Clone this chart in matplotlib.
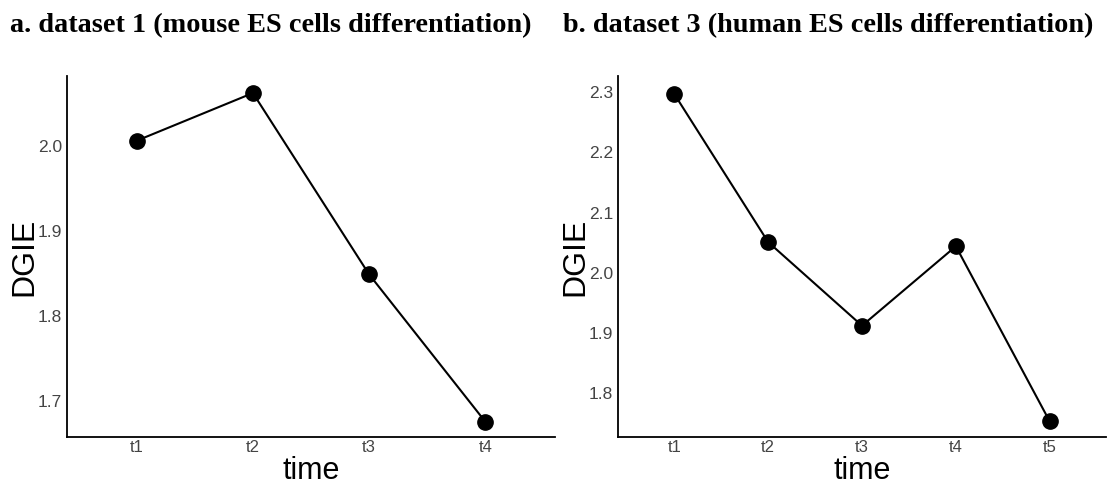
import matplotlib
matplotlib.use("Agg")
import matplotlib.pyplot as plt

# Data
labels_a = ["t1", "t2", "t3", "t4"]
dgie_a = [2.006, 2.062, 1.849, 1.676]
labels_b = ["t1", "t2", "t3", "t4", "t5"]
dgie_b = [2.297, 2.051, 1.912, 2.044, 1.753]

title_a = "a. dataset 1 (mouse ES cells differentiation)"
title_b = "b. dataset 3 (human ES cells differentiation)"

fig = plt.figure(figsize=(11.14, 4.86), dpi=100)
W, H = 1114, 486

def make_ax(x0, x1, y_top, y_bot):
    return fig.add_axes([x0 / W, 1 - y_bot / H, (x1 - x0) / W, (y_bot - y_top) / H])

ax_a = make_ax(67, 555, 76, 437)
ax_b = make_ax(618, 1106, 76, 437)

sans = ["Liberation Sans", "DejaVu Sans"]

def style(ax, labels, values, ylim, yticks):
    x = list(range(len(labels)))
    ax.plot(x, values, color="black", lw=1.5, marker="o", ms=11, zorder=3)
    ax.set_xlim(-0.6, len(labels) - 1 + 0.6)
    ax.set_ylim(*ylim)
    ax.set_xticks(x)
    ax.set_xticklabels(labels, family=sans, fontsize=12, color="#444444")
    ax.set_yticks(yticks)
    ax.set_yticklabels([f"{v:.1f}" for v in yticks], family=sans, fontsize=12.5, color="#444444")
    ax.tick_params(axis="x", length=0, pad=2.5)
    ax.tick_params(axis="y", length=0, pad=3.5)
    for s in ["top", "right"]:
        ax.spines[s].set_visible(False)
    for s in ["left", "bottom"]:
        ax.spines[s].set_linewidth(1.3)
    ax.set_xlabel("time", family=sans, fontsize=22, labelpad=0.5)
    ax.set_ylabel("DGIE", family=sans, fontsize=23, labelpad=-1)

style(ax_a, labels_a, dgie_a, (1.658, 2.082), [1.7, 1.8, 1.9, 2.0])
style(ax_b, labels_b, dgie_b, (1.727, 2.327), [1.8, 1.9, 2.0, 2.1, 2.2, 2.3])

serif = ["Liberation Serif", "DejaVu Serif"]
fig.text(10 / W, 1 - 32 / H, title_a, family=serif, fontweight="bold", fontsize=20.3, ha="left", va="baseline")
fig.text(563 / W, 1 - 32 / H, title_b, family=serif, fontweight="bold", fontsize=20.3, ha="left", va="baseline")

fig.savefig("out.png", dpi=100)
